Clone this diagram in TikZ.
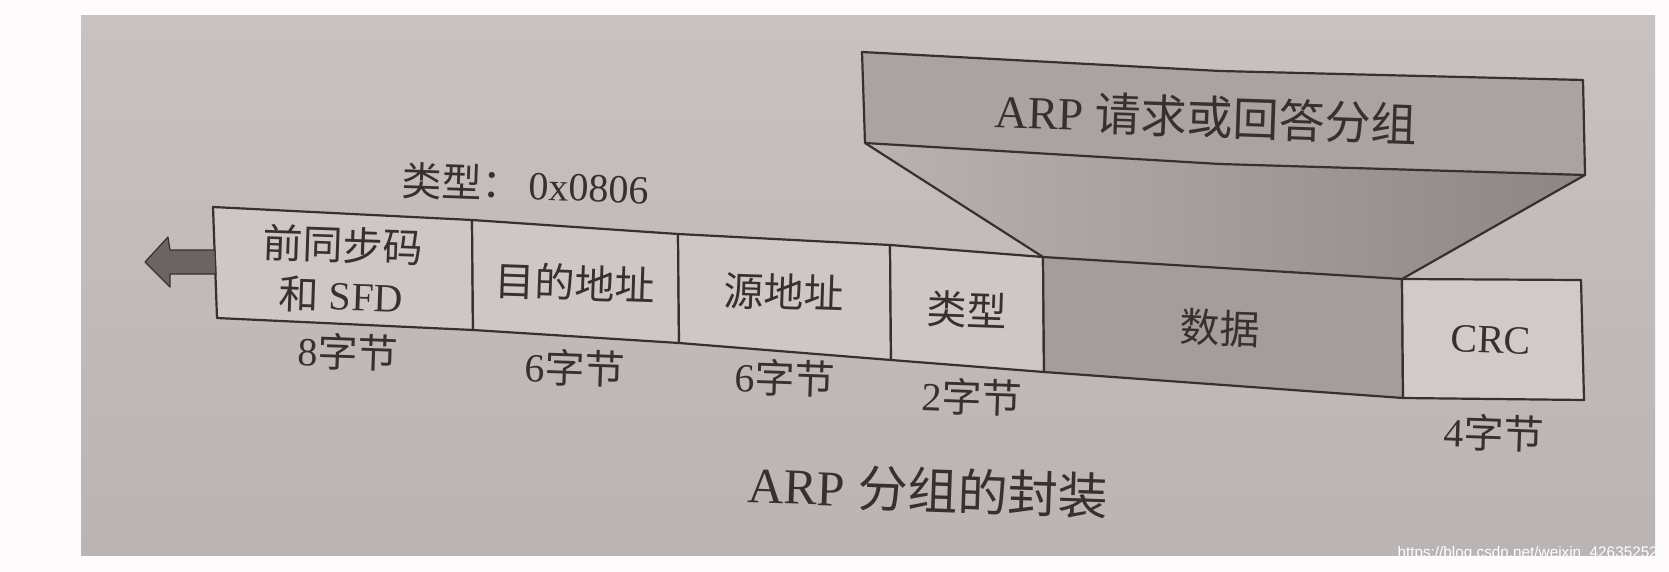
\documentclass[tikz,border=0pt]{standalone}
\usepackage{fontspec}
\setmainfont{Liberation Serif}
\newfontfamily\cjk{Noto Sans CJK SC}
\newfontfamily\wmfont{Liberation Sans}
\definecolor{bg}{HTML}{BAB4B5}
\definecolor{bgtop}{HTML}{C7C1C2}
\definecolor{page}{HTML}{FDFBFC}
\definecolor{ink}{HTML}{363031}
\definecolor{cell}{HTML}{CDC7C8}
\definecolor{crccell}{HTML}{D0CACB}
\definecolor{band}{HTML}{A9A3A4}
\definecolor{datafill}{HTML}{A39D9E}
\definecolor{trapL}{HTML}{B8B2B3}
\definecolor{trapR}{HTML}{8C8687}
\definecolor{arrowfill}{HTML}{6A6465}
\begin{document}
\begin{tikzpicture}[x=1pt,y=-1pt,line join=round,
  frame/.style={draw=ink,line width=2.2pt},
  lbl/.style={text=ink,font=\fontsize{40}{50}\selectfont,rotate=-2,inner sep=0pt,align=center},
  bandlbl/.style={text=ink,font=\fontsize{46}{52}\selectfont,rotate=-2,inner sep=0pt},
  caplbl/.style={text=ink,font=\fontsize{50}{56}\selectfont,rotate=-2,inner sep=0pt},
  wm/.style={text=white,font=\wmfont\fontsize{15.3}{17}\selectfont,inner sep=0pt}]
\useasboundingbox (0,0) rectangle (1669,572);
\fill[page] (0,0) rectangle (1669,572);
\shade[top color=bgtop,bottom color=bg] (81,16) rectangle (1655,555);
% row coordinates
\coordinate (t0) at (213,207); \coordinate (t1) at (472,220);
\coordinate (t2) at (678,234); \coordinate (t3) at (890,245);
\coordinate (t4) at (1043,257); \coordinate (t5) at (1402,279);
\coordinate (t6) at (1581,280);
\coordinate (b0) at (217,318); \coordinate (b1) at (473,330);
\coordinate (b2) at (679,343); \coordinate (b3) at (891,360);
\coordinate (b4) at (1044,372); \coordinate (b5) at (1403,398);
\coordinate (b6) at (1584,400);
% band coordinates
\coordinate (p1) at (862,52); \coordinate (pm) at (1220,71); \coordinate (p2) at (1583,80);
\coordinate (p3) at (1585,175); \coordinate (qm) at (1220,164); \coordinate (p4) at (865,143);
% trapezoid
\shade[left color=trapL,right color=trapR] (p4) -- (qm) -- (p3) -- (t5) -- (t4) -- cycle;
\draw[frame] (p4) -- (t4) (p3) -- (t5);
% band
\filldraw[frame,fill=band] (p1) -- (pm) -- (p2) -- (p3) -- (qm) -- (p4) -- cycle;
% cells
\filldraw[frame,fill=cell] (t0) -- (t1) -- (b1) -- (b0) -- cycle;
\filldraw[frame,fill=cell] (t1) -- (t2) -- (b2) -- (b1) -- cycle;
\filldraw[frame,fill=cell] (t2) -- (t3) -- (b3) -- (b2) -- cycle;
\filldraw[frame,fill=cell] (t3) -- (t4) -- (b4) -- (b3) -- cycle;
\filldraw[frame,fill=datafill] (t4) -- (t5) -- (b5) -- (b4) -- cycle;
\filldraw[frame,fill=crccell] (t5) -- (t6) -- (b6) -- (b5) -- cycle;
% arrow
\filldraw[draw=ink,line width=1.2pt,fill=arrowfill] (215,250) -- (170,250) -- (168,237) -- (145,262) -- (170,287) -- (170,274) -- (216,274) -- cycle;
% labels
\node[lbl] (c1) at (342,270) {{\cjk 前同步码}\\{\cjk 和} SFD};
\node[lbl] (c2) at (575,283) {\cjk 目的地址};
\node[lbl] (c3) at (784,292) {\cjk 源地址};
\node[lbl] (c4) at (967,310) {\cjk 类型};
\node[lbl] (c5) at (1220,328) {\cjk 数据};
\node[lbl] (c6) at (1491,340) {CRC};
\node[lbl] (s1) at (348,352) {8{\cjk 字节}};
\node[lbl] (s2) at (575,368) {6{\cjk 字节}};
\node[lbl] (s3) at (785,378) {6{\cjk 字节}};
\node[lbl] (s4) at (972,397) {2{\cjk 字节}};
\node[lbl] (s6) at (1494,433) {4{\cjk 字节}};
\node[lbl,anchor=west] (ty) at (402,180) {{\cjk 类型：}\,0x0806};
\node[bandlbl] (arp) at (1206,117) {ARP {\cjk 请求或回答分组}};
\node[caplbl] (cap) at (928,490) {ARP {\cjk 分组的封装}};
\node[wm,anchor=east] (w) at (1658,554) {https://blog.csdn.net/weixin\_42635252};
\end{tikzpicture}
\end{document}
